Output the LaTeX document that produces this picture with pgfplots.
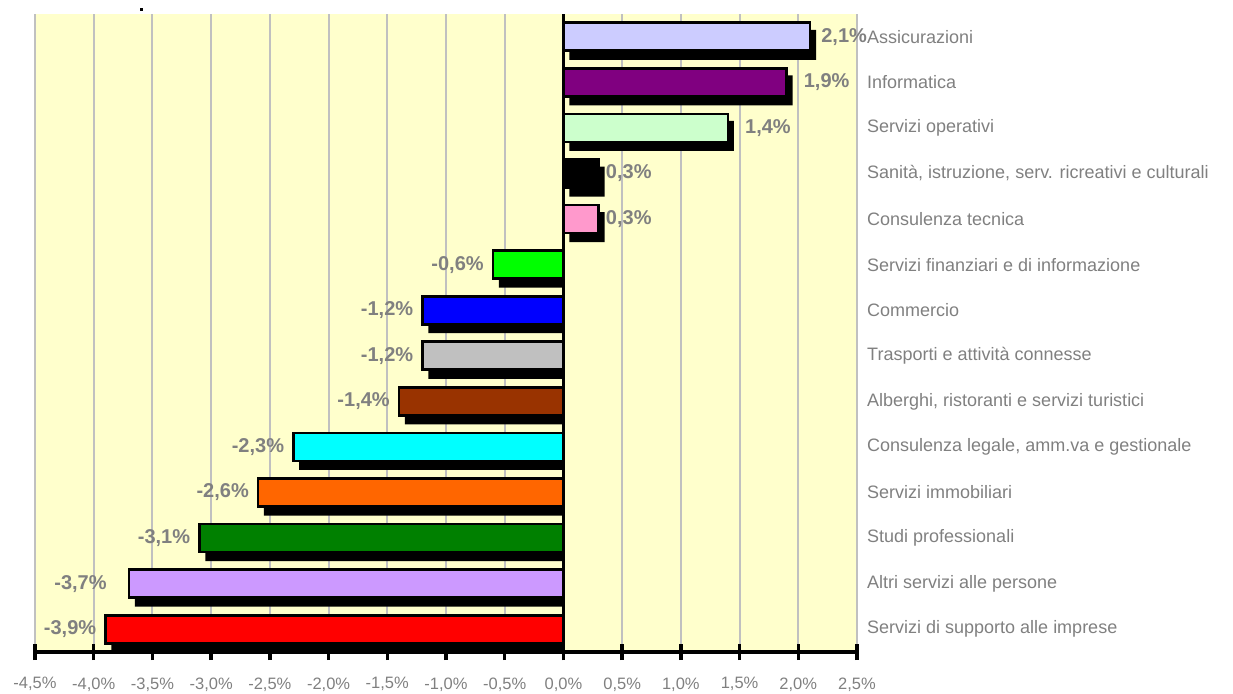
\documentclass[border=0pt]{standalone}
\usepackage{pgfplots}
\pgfplotsset{compat=1.18}
\usepackage{fontspec}
\setmainfont{Liberation Sans}
\definecolor{bgy}{HTML}{FFFFCC}
\definecolor{txt}{HTML}{808080}
\definecolor{gridc}{HTML}{C0C0C0}
\definecolor{cA}{HTML}{CCCCFF}
\definecolor{cB}{HTML}{800080}
\definecolor{cC}{HTML}{CCFFCC}
\definecolor{cD}{HTML}{000000}
\definecolor{cE}{HTML}{FF99CC}
\definecolor{cF}{HTML}{00FF00}
\definecolor{cG}{HTML}{0000FF}
\definecolor{cH}{HTML}{C0C0C0}
\definecolor{cI}{HTML}{993300}
\definecolor{cJ}{HTML}{00FFFF}
\definecolor{cK}{HTML}{FF6600}
\definecolor{cL}{HTML}{008000}
\definecolor{cM}{HTML}{CC99FF}
\definecolor{cN}{HTML}{FF0000}
\pgfplotsset{
  mybar/.style={xbar, bar width=28pt, bar shift=0pt, draw=black, fill=#1,
    point meta=x,
    nodes near coords={\pgfmathprintnumber[fixed,fixed zerofill,precision=1,use comma,assume math mode=true]{\pgfplotspointmeta}\%},
    every node near coord/.append style={font=\bfseries\fontsize{20}{22}\selectfont, text=txt, inner sep=0pt}},
  posl/.style={every node near coord/.append style={anchor=west, xshift=#1}},
  negl/.style={every node near coord/.append style={anchor=east, xshift=#1}},
}
\begin{document}
\begin{tikzpicture}[x=1pt,y=1pt]
\useasboundingbox (0,0) rectangle (1233,693);
\fill[black] (139.5,681.5) rectangle ++(3,3);
\begin{axis}[
  at={(35pt,41pt)}, anchor=south west,
  scale only axis, width=822pt, height=638pt,
  xmin=-4.5, xmax=2.5, ymin=-0.5, ymax=13.5, y dir=reverse,
  axis background/.style={fill=bgy},
  axis x line*=bottom,
  x axis line style={-},
  y axis line style={draw=none},
  xtick={-4.5,-4,-3.5,-3,-2.5,-2,-1.5,-1,-0.5,0,0.5,1,1.5,2,2.5},
  xtick align=center,
  x tick style={line width=3.5pt, black},
  major tick length=16pt,
  xmajorgrids,
  major x grid style={gridc, line width=2pt},
  extra x ticks={0},
  extra x tick labels={},
  extra x tick style={major x grid style={black, line width=2.5pt}},
  xticklabel={\pgfmathprintnumber[fixed,fixed zerofill,precision=1,use comma,assume math mode=true]{\tick}\%},
  xticklabel style={font=\fontsize{16.5}{18}\selectfont, text=txt, anchor=north, yshift=-14pt},
  ytick={0,...,13},
  y tick style={draw=none},
  yticklabel pos=right,
  yticklabels={Assicurazioni, Informatica, Servizi operativi, {Sanità, istruzione, serv. ricreativi e culturali}, Consulenza tecnica, Servizi finanziari e di informazione, Commercio, Trasporti e attività connesse, {Alberghi, ristoranti e servizi turistici}, {Consulenza legale, amm.va e gestionale}, Servizi immobiliari, Studi professionali, Altri servizi alle persone, Servizi di supporto alle imprese},
  yticklabel style={font=\fontsize{18}{20}\selectfont, text=txt, anchor=west, inner sep=0pt, xshift=10pt},
  clip=false,
]
% shadows
\addplot[xbar, bar width=30pt, bar shift=0pt, fill=black, draw=none, xshift=6pt, yshift=-8pt]
  coordinates {(2.1,0) (1.9,1) (1.4,2) (0.3,3) (0.3,4)};
\addplot[xbar, bar width=30pt, bar shift=0pt, fill=black, draw=none, yshift=-8pt, x filter/.expression={x+0.05}]
  coordinates {(-0.6,5) (-1.2,6) (-1.2,7) (-1.4,8) (-2.3,9) (-2.6,10) (-3.1,11) (-3.7,12) (-3.9,13)};
% bars
\addplot[mybar=cA, posl=10pt, line width=2.6pt] coordinates {(2.1,0)};
\addplot[mybar=cB, posl=16pt, line width=2.6pt] coordinates {(1.9,1)};
\addplot[mybar=cC, posl=16pt, line width=2.6pt] coordinates {(1.4,2)};
\addplot[mybar=cD, posl=6pt, line width=2.6pt] coordinates {(0.3,3)};
\addplot[mybar=cE, posl=6pt, line width=2.6pt] coordinates {(0.3,4)};
\addplot[mybar=cF, negl=-8pt, line width=2.6pt] coordinates {(-0.6,5)};
\addplot[mybar=cG, negl=-8pt, line width=2.6pt] coordinates {(-1.2,6)};
\addplot[mybar=cH, negl=-8pt, line width=2.6pt] coordinates {(-1.2,7)};
\addplot[mybar=cI, negl=-8pt, line width=2.6pt] coordinates {(-1.4,8)};
\addplot[mybar=cJ, negl=-8pt, line width=2.6pt] coordinates {(-2.3,9)};
\addplot[mybar=cK, negl=-8pt, line width=2.6pt] coordinates {(-2.6,10)};
\addplot[mybar=cL, negl=-8pt, line width=2.6pt] coordinates {(-3.1,11)};
\addplot[mybar=cM, negl=-21pt, line width=2.6pt] coordinates {(-3.7,12)};
\addplot[mybar=cN, negl=-8pt, line width=2.6pt] coordinates {(-3.9,13)};
\draw[black, line width=4.5pt] (axis cs:-4.5,13.5) -- (axis cs:2.5,13.5);
\end{axis}
\end{tikzpicture}
\end{document}
